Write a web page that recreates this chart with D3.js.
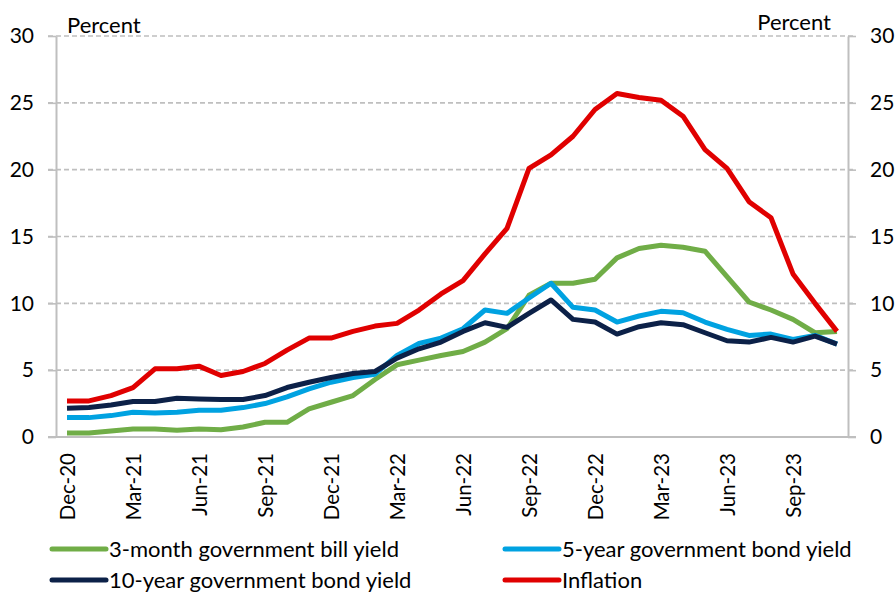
<!DOCTYPE html>
<html>
<head>
<meta charset="utf-8">
<script src="https://cdn.jsdelivr.net/npm/d3@7"></script>
<style>
  html, body { margin: 0; padding: 0; background: #fff; }
  svg { display: block; font-family: Lato, "Open Sans", sans-serif; }
</style>
</head>
<body>
<svg id="chart" width="895" height="596"></svg>
<script>
// Monthly observations, Dec-20 to Nov-23
const months = [
  "Dec-20","Jan-21","Feb-21","Mar-21","Apr-21","May-21","Jun-21","Jul-21","Aug-21","Sep-21","Oct-21","Nov-21",
  "Dec-21","Jan-22","Feb-22","Mar-22","Apr-22","May-22","Jun-22","Jul-22","Aug-22","Sep-22","Oct-22","Nov-22",
  "Dec-22","Jan-23","Feb-23","Mar-23","Apr-23","May-23","Jun-23","Jul-23","Aug-23","Sep-23","Oct-23","Nov-23"
];
const tickLabels = ["Dec-20","Mar-21","Jun-21","Sep-21","Dec-21","Mar-22","Jun-22","Sep-22","Dec-22","Mar-23","Jun-23","Sep-23"];
const yTicks = [0, 5, 10, 15, 20, 25, 30];

const billYield3m = [0.3,0.3,0.45,0.6,0.6,0.5,0.6,0.55,0.75,1.1,1.1,2.1,
  2.6,3.1,4.3,5.4,5.75,6.1,6.4,7.1,8.1,10.6,11.5,11.5,
  11.8,13.4,14.1,14.35,14.2,13.9,12.0,10.1,9.5,8.8,7.8,7.9];
const bondYield5y = [1.45,1.45,1.6,1.85,1.8,1.85,2.0,2.0,2.2,2.5,3.0,3.6,
  4.1,4.45,4.7,6.1,7.0,7.4,8.1,9.5,9.25,10.4,11.5,9.7,
  9.5,8.6,9.05,9.4,9.3,8.6,8.05,7.6,7.7,7.3,7.6,6.95];
const bondYield10y = [2.15,2.2,2.4,2.65,2.65,2.9,2.85,2.8,2.8,3.1,3.7,4.1,
  4.45,4.75,4.9,5.9,6.6,7.1,7.9,8.55,8.2,9.25,10.25,8.8,
  8.6,7.7,8.25,8.55,8.4,7.8,7.2,7.1,7.45,7.1,7.55,6.95];
const inflation = [2.7,2.7,3.1,3.7,5.1,5.1,5.3,4.6,4.9,5.5,6.5,7.4,
  7.4,7.9,8.3,8.5,9.5,10.7,11.7,13.7,15.6,20.1,21.1,22.5,
  24.5,25.7,25.4,25.2,24.0,21.5,20.1,17.6,16.4,12.2,10.0,7.9];

const seriesNames = ["3-month government bill yield","5-year government bond yield","10-year government bond yield","Inflation"];
const seriesColors = ["#70AD47","#00A2E1","#0C2148","#E00000"];
const seriesValues = [billYield3m, bondYield5y, bondYield10y, inflation];

const svg = d3.select("#chart");
const plotLeft = 56, plotRight = 848, plotTop = 36, plotBottom = 437;
const axisColor = "#BFBFBF";

const x = d3.scalePoint().domain(months).range([plotLeft, plotRight]).padding(0.5);
const y = d3.scaleLinear().domain([0, 30]).range([plotBottom, plotTop]);

// dashed horizontal gridlines
svg.append("g").selectAll("line")
  .data(yTicks.filter(d => d > 0))
  .join("line")
  .attr("x1", plotLeft - 8).attr("x2", plotRight + 8)
  .attr("y1", d => y(d)).attr("y2", d => y(d))
  .attr("stroke", axisColor).attr("stroke-width", 1.6)
  .attr("stroke-dasharray", "5,3");

// left and right value axes
function styleAxis(g) {
  g.select(".domain").attr("stroke", axisColor).attr("stroke-width", 2);
  g.selectAll(".tick line").attr("stroke", axisColor).attr("stroke-width", 1.6);
  g.selectAll(".tick text").attr("fill", "#000").style("font-size", "21px")
    .style("font-family", "Lato, sans-serif");
}
svg.append("g").attr("transform", `translate(${plotLeft},0)`)
  .call(d3.axisLeft(y).tickValues(yTicks).tickSize(8).tickPadding(14).tickSizeOuter(0))
  .call(styleAxis);
svg.append("g").attr("transform", `translate(${plotRight},0)`)
  .call(d3.axisRight(y).tickValues(yTicks).tickSize(8).tickPadding(14).tickSizeOuter(0))
  .call(styleAxis);

// baseline and category axis
const gx = svg.append("g").attr("transform", `translate(0,${plotBottom})`)
  .call(d3.axisBottom(x).tickValues(tickLabels).tickSize(0).tickPadding(0));
gx.select(".domain").remove();
svg.append("line")
  .attr("x1", plotLeft - 8).attr("x2", plotRight + 8)
  .attr("y1", y(0)).attr("y2", y(0))
  .attr("stroke", axisColor).attr("stroke-width", 2);
gx.selectAll(".tick text")
  .attr("transform", "rotate(-90)")
  .attr("text-anchor", "end")
  .attr("x", -16).attr("y", 0).attr("dy", "0.36em")
  .attr("fill", "#000")
  .style("font-size", "20.5px").style("font-family", "Lato, sans-serif");

// unit labels
svg.append("text").attr("x", 67).attr("y", 33).text("Percent")
  .style("font-size", "22px").attr("fill", "#000");
svg.append("text").attr("x", 831).attr("y", 30).attr("text-anchor", "end").text("Percent")
  .style("font-size", "22px").attr("fill", "#000");

// series lines
const line = d3.line().x((d, i) => x(months[i])).y(d => y(d));
svg.append("g").selectAll("path")
  .data(seriesValues)
  .join("path")
  .attr("d", d => line(d))
  .attr("fill", "none")
  .attr("stroke", (d, i) => seriesColors[i])
  .attr("stroke-width", 5)
  .attr("stroke-linejoin", "round");

// legend
const legendPos = [[52, 549], [505, 549], [52, 580], [505, 580]];
const legend = svg.append("g").selectAll("g")
  .data(seriesNames)
  .join("g")
  .attr("transform", (d, i) => `translate(${legendPos[i][0]},${legendPos[i][1]})`);
legend.append("line")
  .attr("x1", 0).attr("x2", 54).attr("y1", 0).attr("y2", 0)
  .attr("stroke", (d, i) => seriesColors[i]).attr("stroke-width", 5)
  .attr("stroke-linecap", "round");
legend.append("text")
  .attr("x", 57).attr("y", 0).attr("dy", "0.36em")
  .text(d => d)
  .style("font-size", "22px").attr("fill", "#000");
</script>
</body>
</html>
